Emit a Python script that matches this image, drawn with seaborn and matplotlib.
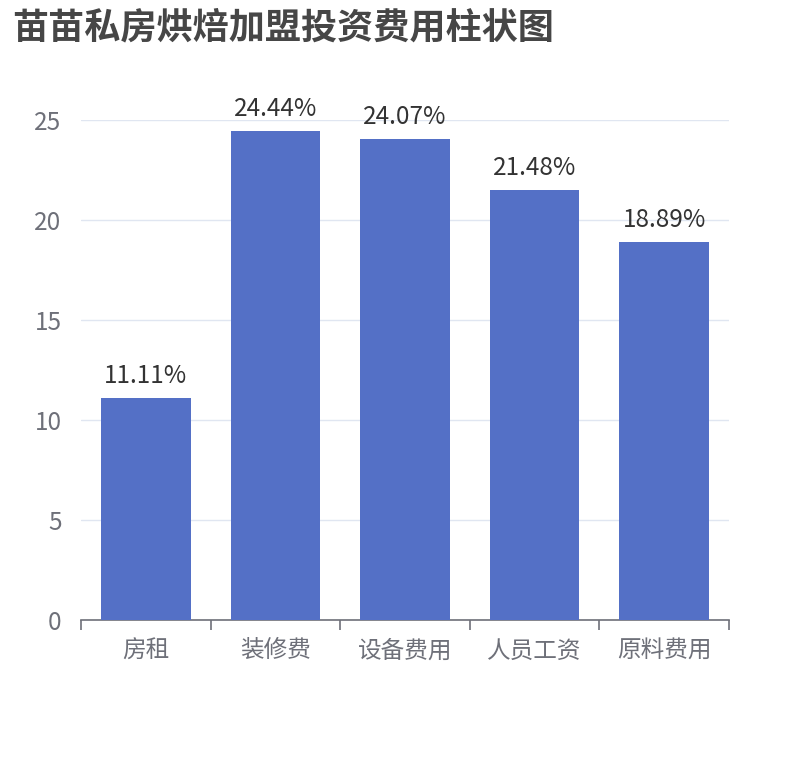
import matplotlib
matplotlib.use('Agg')
import matplotlib.pyplot as plt
import seaborn as sns
import pandas as pd

# 数据
categories = ['房租', '装修费', '设备费用', '人员工资', '原料费用']
values = [11.11, 24.44, 24.07, 21.48, 18.89]
y_ticks = [0, 5, 10, 15, 20, 25]

df = pd.DataFrame({'项目': categories, '占比': values})

sns.set_theme(style='white')
plt.rcParams['font.family'] = ['Noto Sans CJK SC', 'DejaVu Sans']

W, H = 810, 760
fig = plt.figure(figsize=(W / 100, H / 100), dpi=100)
ax = fig.add_axes([81 / W, 140 / H, 648 / W, 500 / H])

sns.barplot(data=df, x='项目', y='占比', color='#5470C6', saturation=1,
            width=0.69, linewidth=0, ax=ax, zorder=3)

for i, v in enumerate(values):
    ax.text(i, v + 0.45, f'{v:.2f}%', ha='center', va='bottom',
            fontsize=17.5, color='#333333')

ax.set_ylim(0, 25)
ax.set_xlim(-0.5, len(categories) - 0.5)
ax.set_yticks(y_ticks)
ax.yaxis.grid(True, color='#E0E6F1', linewidth=1, zorder=0)
ax.set_xlabel('')
ax.set_ylabel('')

for s in ['top', 'right', 'left']:
    ax.spines[s].set_visible(False)
ax.spines['bottom'].set_color('#6E7079')
ax.spines['bottom'].set_linewidth(1.2)

# 刻度线放在类目边界
ax.set_xticks([i - 0.5 for i in range(len(categories) + 1)], minor=False)
ax.set_xticklabels([])
ax.set_xticks(range(len(categories)), minor=True)
ax.set_xticklabels(categories, minor=True)
ax.tick_params(axis='x', which='major', length=7, width=1.2, color='#6E7079',
               direction='out', bottom=True)
ax.tick_params(axis='x', which='minor', length=0, pad=14, labelsize=17,
               labelcolor='#6E7079')
ax.tick_params(axis='y', length=0, pad=14, labelsize=17.5, labelcolor='#6E7079')

fig.text(12 / W, 1 - 28 / H, '苗苗私房烘焙加盟投资费用柱状图', fontsize=26,
         fontweight='bold', color='#464646', ha='left', va='center')

fig.savefig('out.png', dpi=100)
